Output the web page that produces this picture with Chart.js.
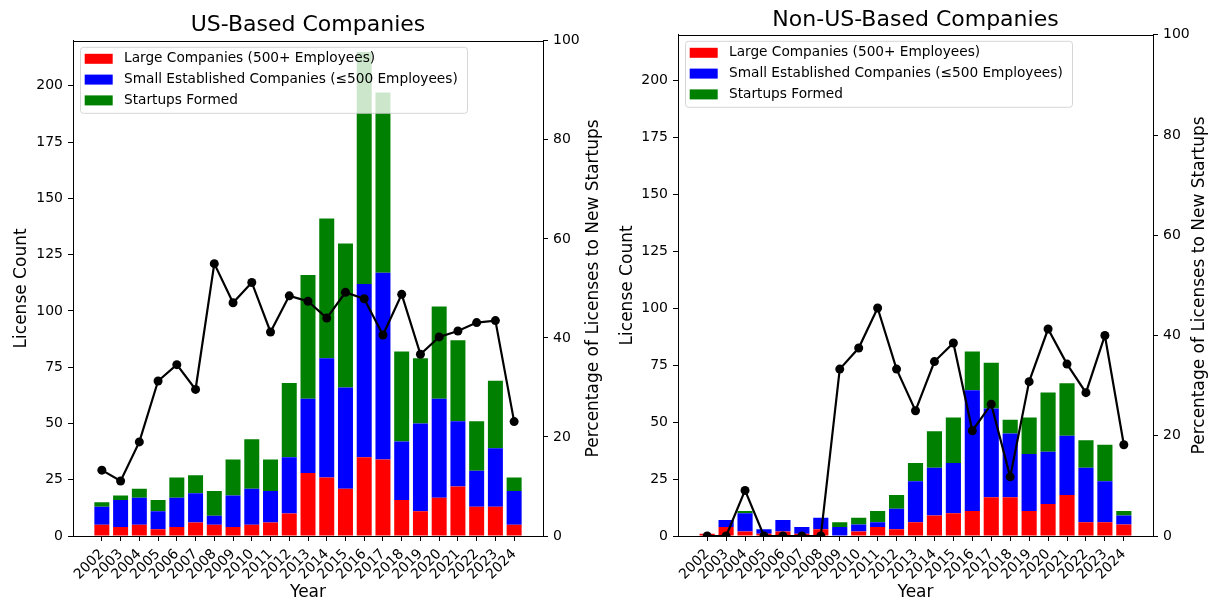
<!DOCTYPE html>
<html>
<head>
<meta charset="utf-8">
<script src="https://cdn.jsdelivr.net/npm/chart.js@4/dist/chart.umd.min.js"></script>
<style>
  html, body { margin: 0; padding: 0; background: #ffffff; }
  #wrap { position: relative; width: 1212px; height: 602px; }
  #wrap canvas { position: absolute; top: 0; }
</style>
</head>
<body>
<div id="wrap">
  <canvas id="usChart" width="606" height="602" style="left:0px"></canvas>
  <canvas id="nonUsChart" width="606" height="602" style="left:606px"></canvas>
</div>
<script>
// Licence counts per year, split by licensee type
const years = [2002, 2003, 2004, 2005, 2006, 2007, 2008, 2009, 2010, 2011, 2012, 2013,
               2014, 2015, 2016, 2017, 2018, 2019, 2020, 2021, 2022, 2023, 2024];

const usLarge    = [5, 4, 5, 3, 4, 6, 5, 4, 5, 6, 10, 28, 26, 21, 35, 34, 16, 11, 17, 22, 13, 13, 5];
const usSmall    = [8, 12, 12, 8, 13, 13, 4, 14, 16, 14, 25, 33, 53, 45, 77, 83, 26, 39, 44, 29, 16, 26, 15];
const usStartups = [2, 2, 4, 5, 9, 8, 11, 16, 22, 14, 33, 55, 62, 64, 103, 80, 40, 29, 41, 36, 22, 30, 6];
const usPct      = [13.3, 11.1, 19.0, 31.3, 34.6, 29.6, 55.0, 47.1, 51.2, 41.2, 48.5, 47.4,
                    44.0, 49.2, 47.9, 40.6, 48.8, 36.7, 40.2, 41.4, 43.1, 43.5, 23.1];

const nonUsLarge    = [1, 4, 2, 1, 2, 1, 3, 0, 2, 4, 3, 6, 9, 10, 11, 17, 17, 11, 14, 18, 6, 6, 5];
const nonUsSmall    = [0, 3, 8, 2, 5, 3, 5, 4, 3, 2, 9, 18, 21, 22, 53, 39, 28, 25, 23, 26, 24, 18, 4];
const nonUsStartups = [0, 0, 1, 0, 0, 0, 0, 2, 3, 5, 6, 8, 16, 20, 17, 20, 6, 16, 26, 23, 12, 16, 2];
const nonUsPct      = [0, 0, 9.1, 0, 0, 0, 0, 33.3, 37.5, 45.5, 33.3, 25.0,
                       34.8, 38.5, 21.0, 26.3, 11.8, 30.8, 41.3, 34.3, 28.6, 40.0, 18.2];

const countTicks = [0, 25, 50, 75, 100, 125, 150, 175, 200];
const pctTicks   = [0, 20, 40, 60, 80, 100];

const seriesLabels = [
  'Large Companies (500+ Employees)',
  'Small Established Companies (\u2264500 Employees)',
  'Startups Formed'
];
const seriesColors = ['#ff0000', '#0000ff', '#008000'];
const pctAxisTitle = 'Percentage of Licenses to New Startups';

Chart.defaults.font.family = "'DejaVu Sans', sans-serif";
Chart.defaults.font.size = 14;
Chart.defaults.color = '#000000';

// Boxed legend in the upper-left corner of the plot, semi-transparent white
const boxLegend = {
  id: 'boxLegend',
  afterDatasetsDraw(chart) {
    const { ctx, chartArea: a } = chart;
    const x0 = a.left + 7.5, y0 = a.top + 6.5, w = 387, h = 66, r = 3;
    ctx.save();
    ctx.beginPath();
    ctx.moveTo(x0 + r, y0);
    ctx.lineTo(x0 + w - r, y0);
    ctx.arcTo(x0 + w, y0, x0 + w, y0 + r, r);
    ctx.lineTo(x0 + w, y0 + h - r);
    ctx.arcTo(x0 + w, y0 + h, x0 + w - r, y0 + h, r);
    ctx.lineTo(x0 + r, y0 + h);
    ctx.arcTo(x0, y0 + h, x0, y0 + h - r, r);
    ctx.lineTo(x0, y0 + r);
    ctx.arcTo(x0, y0, x0 + r, y0, r);
    ctx.closePath();
    ctx.fillStyle = 'rgba(255,255,255,0.8)';
    ctx.fill();
    ctx.strokeStyle = 'rgba(204,204,204,0.8)';
    ctx.lineWidth = 1;
    ctx.stroke();
    const bars = chart.data.datasets.filter(d => d.type !== 'line');
    ctx.font = "13.7px 'DejaVu Sans', sans-serif";
    ctx.textBaseline = 'middle';
    ctx.textAlign = 'left';
    bars.forEach((d, i) => {
      const yy = a.top + 18 + i * 20.8;
      ctx.fillStyle = d.backgroundColor;
      ctx.fillRect(a.left + 11.7, yy - 5, 28, 10);
      ctx.fillStyle = '#000000';
      ctx.fillText(d.label, a.left + 51, yy);
    });
    ctx.restore();
  }
};

// Top spine of the plot frame, plus the right-hand axis title read bottom-to-top
const frameExtras = {
  id: 'frameExtras',
  afterDraw(chart) {
    const { ctx, chartArea: a } = chart;
    const y = Math.round(a.top) + 0.5;
    ctx.save();
    ctx.strokeStyle = '#000000';
    ctx.lineWidth = 1;
    ctx.beginPath();
    ctx.moveTo(a.left, y);
    ctx.lineTo(a.right, y);
    ctx.stroke();

    ctx.translate(594, (a.top + a.bottom) / 2);
    ctx.rotate(-Math.PI / 2);
    ctx.font = "17px 'DejaVu Sans', sans-serif";
    ctx.fillStyle = '#000000';
    ctx.textAlign = 'center';
    ctx.textBaseline = 'middle';
    ctx.fillText(pctAxisTitle, 0, 0);
    ctx.restore();
  }
};

function points(values) {
  return years.map((yr, i) => ({ x: yr, y: values[i] }));
}

function axisLines() {
  return {
    display: true,
    drawOnChartArea: false,
    drawTicks: true,
    tickLength: 5,
    color: '#000000',
    lineWidth: 1,
    offset: false
  };
}

function makeChart(id, titleText, large, small, startups, pct, g) {
  const datasets = [
    {
      type: 'line',
      label: 'Startup share',
      data: points(pct),
      xAxisID: 'x',
      yAxisID: 'y2',
      borderColor: '#000000',
      backgroundColor: '#000000',
      borderWidth: 2.2,
      pointRadius: 4.5,
      pointBorderWidth: 0,
      pointBackgroundColor: '#000000',
      tension: 0,
      order: 0
    }
  ];
  [large, small, startups].forEach((vals, i) => {
    datasets.push({
      type: 'bar',
      label: seriesLabels[i],
      data: points(vals),
      xAxisID: 'x',
      yAxisID: 'y',
      backgroundColor: seriesColors[i],
      borderWidth: 0,
      barPercentage: 0.8,
      categoryPercentage: 1.0,
      order: 1
    });
  });

  return new Chart(document.getElementById(id), {
    type: 'bar',
    data: { datasets },
    options: {
      responsive: false,
      animation: false,
      events: [],
      layout: { padding: 0 },
      plugins: {
        legend: { display: false },
        tooltip: { enabled: false },
        title: {
          display: true,
          fullSize: false,
          text: titleText,
          font: { size: 22, weight: 'normal' },
          color: '#000000',
          padding: { top: g.titleTop, bottom: g.titleBottom }
        }
      },
      scales: {
        x: {
          type: 'linear',
          position: 'bottom',
          stacked: true,
          offset: false,
          min: years[0] - 1.54,
          max: years[years.length - 1] + 1.54,
          afterBuildTicks: s => { s.ticks = years.map(v => ({ value: v })); },
          afterFit: s => { s.height = 66; },
          ticks: {
            autoSkip: false,
            minRotation: 45,
            maxRotation: 45,
            padding: 5,
            color: '#000000',
            callback: v => String(v)
          },
          grid: axisLines(),
          border: { display: true, color: '#000000', width: 1 },
          title: {
            display: true,
            text: 'Year',
            font: { size: 17 },
            color: '#000000',
            padding: { top: 0, bottom: -1 }
          }
        },
        y: {
          type: 'linear',
          position: 'left',
          stacked: true,
          min: 0,
          max: 220,
          afterBuildTicks: s => { s.ticks = countTicks.map(v => ({ value: v })); },
          afterFit: s => { s.width = g.left; },
          ticks: { padding: 5, color: '#000000' },
          grid: axisLines(),
          border: { display: true, color: '#000000', width: 1 },
          title: {
            display: true,
            text: 'License Count',
            font: { size: 17 },
            color: '#000000',
            padding: { top: 11, bottom: 0 }
          }
        },
        y2: {
          type: 'linear',
          position: 'right',
          min: 0,
          max: 100,
          afterBuildTicks: s => { s.ticks = pctTicks.map(v => ({ value: v })); },
          afterFit: s => { s.width = 606 - g.right; },
          ticks: { padding: 5, color: '#000000' },
          grid: axisLines(),
          border: { display: true, color: '#000000', width: 1 },
          title: { display: false }
        }
      }
    },
    plugins: [boxLegend, frameExtras]
  });
}

makeChart('usChart', 'US-Based Companies', usLarge, usSmall, usStartups, usPct,
          { left: 73, right: 543, titleTop: 12.5, titleBottom: 1.9 });
makeChart('nonUsChart', 'Non-US-Based Companies', nonUsLarge, nonUsSmall, nonUsStartups, nonUsPct,
          { left: 72, right: 547, titleTop: 7.0, titleBottom: 1.4 });
</script>
</body>
</html>
